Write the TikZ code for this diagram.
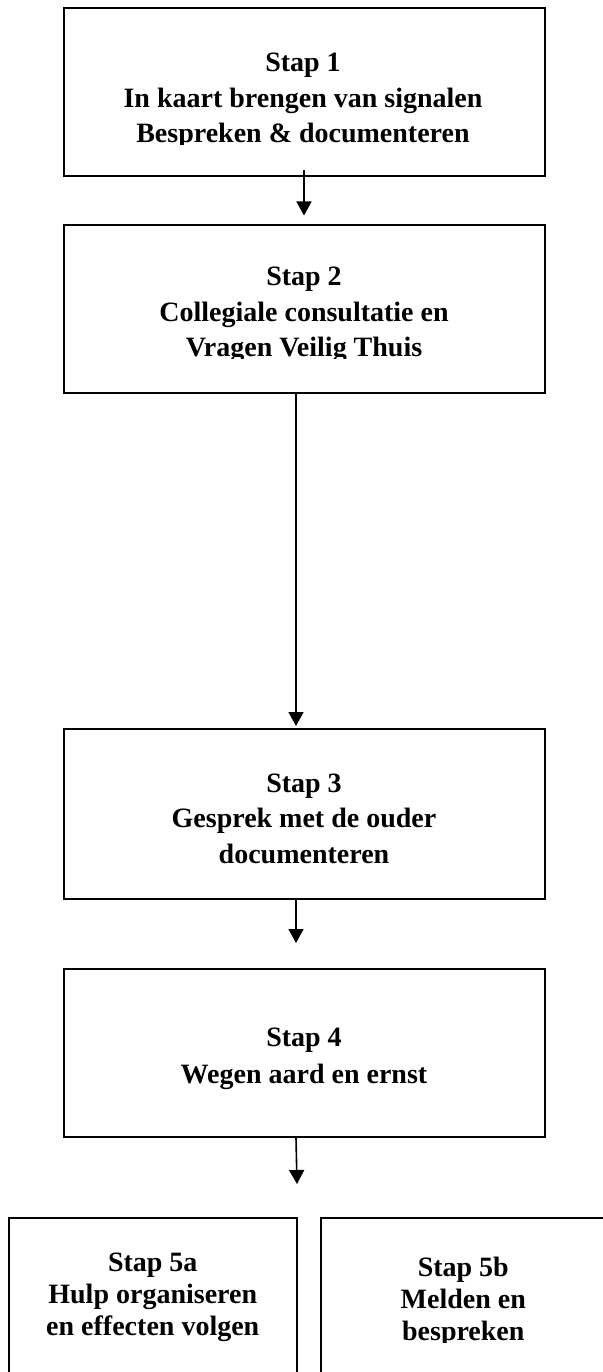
\documentclass[tikz,border=0pt]{standalone}
\newif\ifpal
\IfFileExists{t1upl.fd}{\IfFileExists{uplb8t.tfm}{\paltrue}{}}{}
\ifpal
  \usepackage[T1]{fontenc}\renewcommand{\rmdefault}{upl}\newcommand{\fsz}{26.5}
\else
  \usepackage{fontspec}\setmainfont{Liberation Serif}\newcommand{\fsz}{28}
\fi
\usetikzlibrary{arrows.meta}
\begin{document}
\begin{tikzpicture}[x=1pt,y=-1pt,
  stepbox/.style={draw, line width=2pt, inner sep=0pt},
  steptext/.style={anchor=base, align=center, inner sep=0pt,
    font=\bfseries\fontsize{\fsz}{35.5}\selectfont},
  smalltext/.style={anchor=base, align=center, inner sep=0pt,
    font=\bfseries\fontsize{\fsz}{32}\selectfont},
  arr/.style={line width=1.6pt, -{Triangle[width=15pt,length=14pt]}}]
\useasboundingbox (0,0) rectangle (602,1372);
\fill[white] (0,0) rectangle (602,1372);

% boxes
\node[stepbox, minimum width=481pt, minimum height=168pt] (s1) at (304,92) {};
\node[stepbox, minimum width=481pt, minimum height=168pt] (s2) at (304,309) {};
\node[stepbox, minimum width=481pt, minimum height=170pt] (s3) at (304,814) {};
\node[stepbox, minimum width=481pt, minimum height=168pt] (s4) at (304,1053) {};
\node[stepbox, minimum width=287.5pt, minimum height=180pt] (s5a) at (152.75,1308) {};
\node[stepbox, minimum width=285.3pt, minimum height=180pt] (s5b) at (463.35,1308) {};

% texts (anchor=base is the baseline of the last line)
\begin{scope}
\clip (0,0) rectangle (602,144.5);
\node[steptext] (t1) at (303,143) {Stap 1\\In kaart brengen van signalen\\Bespreken \& documenteren};
\end{scope}
\begin{scope}
\clip (0,200) rectangle (602,358.3);
\node[steptext] (t2) at (304,356.7) {Stap 2\\Collegiale consultatie en\\Vragen Veilig Thuis};
\end{scope}
\node[steptext] (t3) at (304,863) {Stap 3\\Gesprek met de ouder\\documenteren};
\node[font=\bfseries\fontsize{\fsz}{36.3}\selectfont, anchor=base, align=center, inner sep=0pt] (t4) at (304,1083) {Stap 4\\Wegen aard en ernst};
\node[smalltext] (t5a) at (152.75,1335) {Stap 5a\\Hulp organiseren\\en effecten volgen};
\begin{scope}
\clip (300,1230) rectangle (602,1342.7);
\node[smalltext] (t5b) at (463.3,1340) {Stap 5b\\Melden en\\bespreken};
\end{scope}

% connectors
\draw[arr] ([yshift=7pt]s1.south) -- ([yshift=8.5pt]s2.north);
\draw[arr] ([xshift=-8pt]s2.south) -- ([xshift=-8pt,yshift=2pt]s3.north);
\draw[arr] ([xshift=-8pt,yshift=2.5pt]s3.south) -- ([xshift=-8pt,yshift=25pt]s4.north);
\draw[arr] ([xshift=-8pt]s4.south) -- ([xshift=-0.5pt,yshift=33pt]s5a.north east);
\end{tikzpicture}
\end{document}
